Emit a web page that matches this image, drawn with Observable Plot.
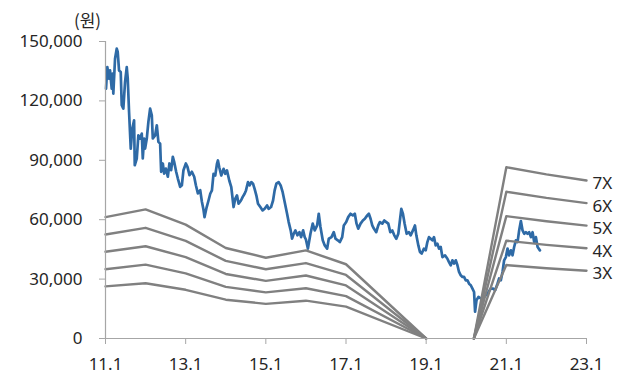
<!DOCTYPE html>
<html><head><meta charset="utf-8">
<script src="https://cdn.jsdelivr.net/npm/d3@7"></script>
<script src="https://cdn.jsdelivr.net/npm/@observablehq/plot@0.6"></script>
<style>body{margin:0;background:#fff}#chart svg{display:block}</style>
</head><body><div id="chart"></div>
<script>
// Stock price (원), time as decimal year
const priceYears = [
2011.013,2011.045,2011.088,2011.113,2011.155,2011.180,2011.195,2011.238,2011.280,2011.305,
2011.338,2011.380,2011.405,2011.445,2011.488,2011.530,2011.555,2011.588,2011.630,2011.670,
2011.713,2011.730,2011.780,2011.820,2011.863,2011.905,2011.930,2011.963,2011.988,2012.030,
2012.070,2012.113,2012.155,2012.180,2012.238,2012.280,2012.320,2012.363,2012.388,2012.430,
2012.463,2012.505,2012.555,2012.595,2012.638,2012.680,2012.713,2012.763,2012.805,2012.863,
2012.905,2012.945,2013.005,2013.045,2013.095,2013.155,2013.213,2013.255,2013.305,2013.363,
2013.405,2013.445,2013.470,2013.520,2013.570,2013.613,2013.655,2013.695,2013.738,2013.780,
2013.805,2013.838,2013.888,2013.945,2013.988,2014.030,2014.088,2014.138,2014.195,2014.238,
2014.280,2014.320,2014.380,2014.420,2014.470,2014.505,2014.555,2014.595,2014.638,2014.680,
2014.720,2014.763,2014.805,2014.863,2014.920,2014.970,2015.030,2015.070,2015.130,2015.180,
2015.220,2015.263,2015.320,2015.370,2015.420,2015.470,2015.530,2015.570,2015.620,2015.655,
2015.695,2015.738,2015.788,2015.838,2015.880,2015.930,2015.970,2016.000,2016.050,2016.113,
2016.170,2016.220,2016.280,2016.320,2016.363,2016.420,2016.470,2016.530,2016.570,2016.638,
2016.695,2016.738,2016.795,2016.845,2016.905,2016.945,2017.005,2017.055,2017.113,2017.170,
2017.220,2017.263,2017.305,2017.363,2017.420,2017.470,2017.530,2017.570,2017.613,2017.655,
2017.695,2017.755,2017.805,2017.845,2017.905,2017.955,2018.005,2018.055,2018.105,2018.155,
2018.205,2018.255,2018.305,2018.345,2018.380,2018.420,2018.463,2018.513,2018.570,2018.613,
2018.670,2018.720,2018.755,2018.805,2018.845,2018.888,2018.945,2018.988,2019.030,2019.070,
2019.113,2019.155,2019.195,2019.238,2019.280,2019.320,2019.363,2019.405,2019.470,2019.530,
2019.570,2019.613,2019.655,2019.695,2019.738,2019.780,2019.820,2019.863,2019.905,2019.945,
2019.988,2020.030,2020.070,2020.113,2020.155,2020.195,2020.220,2020.255,2020.305,2020.363,
2020.405,2020.530,2020.613,2020.670,2020.720,2020.780,2020.820,2020.863,2020.905,2020.945,
2020.988,2021.030,2021.070,2021.113,2021.155,2021.195,2021.238,2021.280,2021.320,2021.363,
2021.405,2021.445,2021.488,2021.530,2021.570,2021.613,2021.655,2021.695,2021.738,2021.780,
2021.838];
const priceValues = [
126200,137100,131200,135400,126200,133800,123700,141300,146400,144700,
135400,134600,117800,116100,129600,137100,131200,114400,95900,106000,
110200,87500,90900,102600,101000,103500,90900,101000,95900,101000,
109400,116100,112700,101000,102600,107700,99300,98400,84200,88400,
83300,85800,81700,88400,85000,91800,89200,84200,80800,76600,
77400,85000,88400,86700,82500,84200,81700,77400,73300,74900,
69100,65000,61300,66000,69700,73100,74800,83200,82300,88200,
89900,86500,82300,85700,83200,84900,79800,76400,66400,70600,
72300,68100,69700,71400,73100,74800,79000,77300,79000,78200,
75600,72300,68100,66400,64700,65500,67200,65500,66400,69700,
74800,78200,79000,77300,73900,68900,63000,58800,54600,50400,
52900,54600,52100,53700,51200,54600,51200,50000,45400,52900,
58000,54600,57100,63000,56300,49600,47000,45400,50400,51200,
53700,50400,49600,48700,51200,57100,58800,61300,63000,62200,
63000,58000,55500,58000,59600,60500,62200,63000,60500,57100,
55500,53700,57100,58800,58000,59600,58800,58000,53700,54600,
52100,50400,52900,59600,65500,63000,58000,52900,53700,52100,
54600,57100,52100,47000,43700,42900,45400,44500,48700,51200,
50400,49600,51200,47000,47900,45400,46200,41100,42000,40300,
38600,37000,39500,37800,39500,37000,33600,31900,31100,31100,
29400,29400,27700,26900,25200,23500,13500,19300,21000,20200,
20200,22700,25200,25200,24400,27700,30300,29400,33600,39500,
41100,45400,42000,44500,42000,46200,49600,48700,54600,59300,
54600,52900,53700,52900,53700,51200,53700,48700,51200,46200,
44500];

// PER band values (원); null = no band drawn (gap)
const bandYears = [2011, 2012, 2013, 2014, 2015, 2016, 2017, 2019, 2019.6, 2020.19, 2021, 2022, 2023];
const band3X = [26300, 27900, 24600, 19600, 17500, 19100, 16100, 0, null, 0, 37100, 35500, 34200];
const band4X = [35000, 37300, 32900, 26100, 23300, 25400, 21400, 0, null, 0, 49400, 47300, 45600];
const band5X = [43800, 46600, 41100, 32600, 29100, 31800, 26800, 0, null, 0, 61800, 59200, 57000];
const band6X = [52500, 55900, 49300, 39200, 35000, 38100, 32100, 0, null, 0, 74100, 71000, 68400];
const band7X = [61300, 65200, 57500, 45700, 40800, 44500, 37500, 0, null, 0, 86500, 82900, 79800];
const bandLabels = ["3X", "4X", "5X", "6X", "7X"];

const xTicks = [2011, 2013, 2015, 2017, 2019, 2021, 2023];
const xTickLabels = ["11.1", "13.1", "15.1", "17.1", "19.1", "21.1", "23.1"];
const yTicks = [0, 30000, 60000, 90000, 120000, 150000];
const unitLabel = "(원)";

const price = priceYears.map((t, i) => ({t, v: priceValues[i]}));
const bandSeries = [band3X, band4X, band5X, band6X, band7X];
const bandRows = bandSeries.flatMap((s, k) => s.map((v, i) => ({t: bandYears[i], v, band: bandLabels[k]})));
const bandEnds = bandSeries.map((s, k) => ({t: bandYears[bandYears.length - 1], v: s[s.length - 1], band: bandLabels[k]}));

const axisColor = "#a6a6a6";
const textColor = "#262626";

const chart = Plot.plot({
  width: 622,
  height: 376,
  marginLeft: 105,
  marginRight: 36,
  marginTop: 41,
  marginBottom: 38,
  style: {fontFamily: "'Noto Sans', sans-serif", fontSize: "17px", color: textColor, background: "#fff"},
  x: {type: "linear", domain: [2011, 2023]},
  y: {domain: [0, 150000]},
  marks: [
    Plot.lineY(price, {x: "t", y: "v", stroke: "#2e6aa6", strokeWidth: 2.7, curve: "linear"}),
    Plot.line(bandRows, {x: "t", y: "v", z: "band", stroke: "#808080", strokeWidth: 2.4}),
    Plot.ruleY([0], {stroke: axisColor, strokeWidth: 1.2}),
    Plot.ruleX([2011], {stroke: axisColor, strokeWidth: 1.2}),
    Plot.axisY({ticks: yTicks, tickFormat: d3.format(","), tickSize: 6, tickPadding: 17, stroke: axisColor, fill: textColor, label: null}),
    Plot.axisX({ticks: xTicks, tickFormat: d => xTickLabels[xTicks.indexOf(d)], tickSize: 6, tickPadding: 13, stroke: axisColor, fill: textColor, label: null}),
    Plot.text(bandEnds, {x: "t", y: "v", text: "band", dx: 6, dy: 3, textAnchor: "start", fill: textColor}),
    Plot.text([unitLabel], {frameAnchor: "top-left", dx: -18, dy: -20, textAnchor: "middle", lineAnchor: "middle", fill: textColor, fontFamily: "'Noto Sans CJK KR', 'Noto Sans', sans-serif"})
  ]
});
document.getElementById("chart").appendChild(chart);
</script>
</body></html>
